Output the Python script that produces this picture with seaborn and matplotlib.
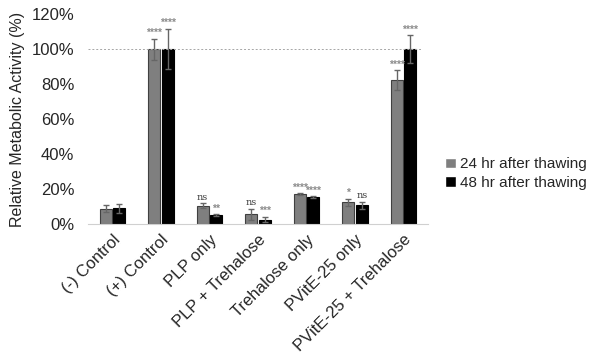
import matplotlib
matplotlib.use("Agg")
import matplotlib.pyplot as plt
import seaborn as sns
import pandas as pd
from matplotlib.ticker import PercentFormatter

groups = ["(-) Control", "(+) Control", "PLP only", "PLP + Trehalose",
          "Trehalose only", "PVitE-25 only", "PVitE-25 + Trehalose"]
series = ["24 hr after thawing", "48 hr after thawing"]

vals_24 = [8.6, 100, 10.5, 5.5, 17.2, 12.3, 82.3]
vals_48 = [9.0, 100, 5.0, 2.5, 15.4, 10.8, 100]
err_24 = [2.0, 6.0, 1.2, 3.2, 0.5, 2.2, 5.5]
err_48 = [2.5, 11.5, 0.7, 1.5, 0.4, 2.0, 8.0]
sig_24 = ["", "****", "ns", "ns", "****", "*", "****"]
sig_48 = ["", "****", "**", "***", "****", "ns", "****"]

df = pd.DataFrame({
    "group": groups * 2,
    "series": [series[0]] * len(groups) + [series[1]] * len(groups),
    "value": vals_24 + vals_48,
})

sns.set_style("white")
plt.rcParams["font.family"] = ["Liberation Sans", "DejaVu Sans"]

fig = plt.figure(figsize=(6, 3.6), dpi=100)
ax = fig.add_axes([0.147, 0.378, 0.566, 0.583])

sns.barplot(data=df, x="group", y="value", hue="series", order=groups,
            hue_order=series, palette=["#7f7f7f", "#000000"], width=0.56,
            gap=0.1, errorbar=None, ax=ax, legend=True)

edges = ["#404040", "#000000"]
errs = [err_24, err_48]
vals = [vals_24, vals_48]
sigs = [sig_24, sig_48]
bars = ax.patches[:2 * len(groups)]
for k in range(2):
    for i in range(len(groups)):
        p = bars[k * len(groups) + i]
        p.set_edgecolor(edges[k])
        p.set_linewidth(0.8)
        xc = p.get_x() + p.get_width() / 2
        ax.errorbar(xc, vals[k][i], yerr=errs[k][i], fmt="none",
                    ecolor="#666666", elinewidth=1.0, capsize=2.5, capthick=1.0)
        s = sigs[k][i]
        if not s:
            continue
        top = vals[k][i] + errs[k][i]
        if s == "ns":
            ax.text(xc, top + 1.0, s, ha="center", va="bottom", fontsize=7,
                    family="DejaVu Serif", color="#404040")
        else:
            ax.text(xc, top + 3.2, s, ha="center", va="center", fontsize=7.5,
                    fontweight="bold", color="#8c8c8c")

ax.axhline(100, color="#a6a6a6", lw=0.7, ls=(0, (2, 2)), xmin=0, xmax=0.98)

ax.set_ylim(0, 120)
ax.set_yticks(range(0, 121, 20))
ax.yaxis.set_major_formatter(PercentFormatter(decimals=0))
ax.set_xlim(-0.5, len(groups) - 0.5)
ax.set_xlabel("")
ax.set_ylabel("Relative Metabolic Activity (%)", fontsize=11.5, labelpad=5)
ax.tick_params(axis="y", labelsize=12, length=0, pad=10)
ax.tick_params(axis="x", labelsize=12, length=0, pad=6)
plt.setp(ax.get_xticklabels(), rotation=45, ha="right", rotation_mode="anchor")

for side in ["top", "right", "left"]:
    ax.spines[side].set_visible(False)
ax.spines["bottom"].set_color("#d0d0d0")

handles, labels = ax.get_legend_handles_labels()
ax.legend(handles, labels, loc="center left", bbox_to_anchor=(1.01, 0.24),
          frameon=False, fontsize=11, handlelength=0.7, handleheight=0.7,
          handletextpad=0.3, labelspacing=0.3)

fig.savefig("out.png", dpi=100)
